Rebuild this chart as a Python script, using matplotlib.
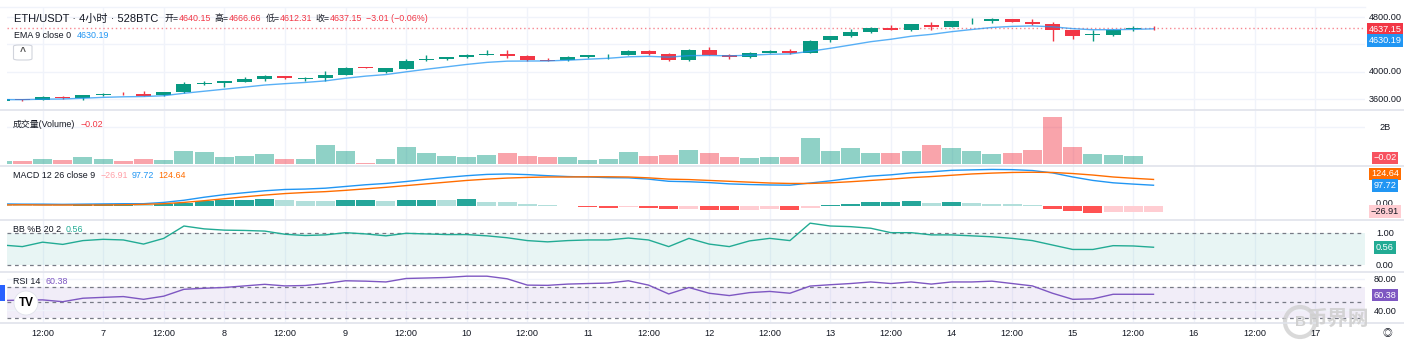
import matplotlib
matplotlib.use("Agg")
import matplotlib.pyplot as plt
from matplotlib.patches import Rectangle, FancyBboxPatch, Ellipse
from matplotlib.lines import Line2D
import numpy as np

plt.rcParams['font.family'] = ['Liberation Sans', 'Noto Sans CJK SC', 'DejaVu Sans']

W, H = 1404, 347

# ---- data: 4h candles, index k (k=0 -> day 6 00:00) ----
bar_idx = list(range(1, 59))
opens = [3575, 3600, 3585, 3630, 3612, 3655, 3678, 3675, 3652, 3695,
         3820, 3830, 3855, 3895, 3930, 3900, 3905, 3950, 4065, 3995,
         4045, 4165, 4190, 4210, 4248, 4255, 4237, 4170, 4165, 4215,
         4245, 4248, 4300, 4265, 4165, 4325, 4250, 4210, 4280, 4310,
         4280, 4460, 4518, 4580, 4637, 4615, 4690, 4660, 4740, 4750,
         4768, 4735, 4705, 4610, 4545, 4540, 4625, 4640.15]
highs = [3605, 3606, 3650, 3638, 3662, 3690, 3695, 3718, 3700, 3845,
         3870, 3870, 3920, 3950, 3935, 3925, 4015, 4068, 4068, 4060,
         4193, 4240, 4218, 4262, 4326, 4326, 4240, 4200, 4225, 4252,
         4258, 4325, 4326, 4272, 4330, 4370, 4258, 4295, 4318, 4330,
         4462, 4525, 4630, 4650, 4680, 4705, 4730, 4752, 4785, 4785,
         4775, 4770, 4730, 4615, 4607, 4630, 4665, 4666.66]
lows = [3570, 3575, 3580, 3605, 3580, 3648, 3660, 3645, 3648, 3690,
        3800, 3780, 3850, 3860, 3898, 3870, 3870, 3945, 4054, 3988,
        4040, 4150, 4175, 4195, 4240, 4198, 4160, 4160, 4150, 4208,
        4185, 4240, 4248, 4160, 4155, 4240, 4185, 4205, 4272, 4260,
        4270, 4430, 4510, 4570, 4615, 4605, 4610, 4652, 4700, 4720,
        4725, 4690, 4449, 4484, 4449, 4530, 4600, 4612.31]
closes = [3598, 3585, 3625, 3612, 3655, 3675, 3665, 3650, 3695, 3825,
          3835, 3865, 3895, 3930, 3905, 3912, 3955, 4060, 4058, 4050,
          4160, 4190, 4210, 4250, 4255, 4228, 4165, 4163, 4215, 4245,
          4250, 4305, 4255, 4165, 4325, 4250, 4210, 4280, 4310, 4280,
          4458, 4518, 4582, 4636, 4620, 4695, 4660, 4745, 4750, 4768,
          4732, 4700, 4610, 4525, 4555, 4620, 4640, 4637.15]
ema9 = [3590, 3589, 3596, 3599, 3610, 3623, 3631, 3635, 3647, 3683,
        3713, 3743, 3773, 3804, 3824, 3842, 3865, 3904, 3935, 3958,
        3998, 4036, 4071, 4107, 4137, 4155, 4157, 4158, 4169, 4184,
        4197, 4219, 4226, 4214, 4236, 4239, 4233, 4242, 4256, 4261,
        4300, 4344, 4392, 4441, 4477, 4521, 4549, 4588, 4620, 4650,
        4666, 4673, 4660, 4633, 4617, 4618, 4622, 4630.19]
volume_b = [0.18, 0.18, 0.29, 0.22, 0.40, 0.27, 0.18, 0.27, 0.22, 0.73,
            0.64, 0.40, 0.44, 0.55, 0.29, 0.27, 1.04, 0.71, 0.05, 0.27,
            0.93, 0.60, 0.44, 0.38, 0.51, 0.60, 0.44, 0.40, 0.38, 0.24,
            0.29, 0.64, 0.44, 0.51, 0.76, 0.60, 0.36, 0.33, 0.36, 0.36,
            1.42, 0.73, 0.87, 0.60, 0.60, 0.69, 1.05, 0.87, 0.69, 0.55,
            0.62, 0.76, 2.56, 0.95, 0.55, 0.49, 0.44, 0.03]
macd_line = [11, 10, 10, 9, 10, 11, 12, 12, 18, 28,
             42, 54, 63, 72, 78, 80, 84, 92, 100, 106,
             115, 125, 134, 142, 148, 150, 147, 142, 138, 136,
             133, 132, 126, 116, 114, 110, 104, 101, 99, 98,
             108, 118, 130, 140, 146, 155, 160, 167, 169, 171,
             170, 166, 155, 136, 120, 109, 103, 97.72]
signal_line = [6, 7, 6, 6, 6, 6, 7, 9, 12, 18,
               26, 35, 44, 52, 59, 64, 68, 74, 81, 88,
               96, 104, 112, 120, 126, 131, 134, 136, 136, 137,
               137, 136, 132, 126, 124, 120, 116, 112, 108, 106,
               106, 109, 114, 120, 126, 133, 138, 144, 150, 154,
               157, 158, 157, 152, 145, 136, 130, 124.64]
macd_hist = [9, 9, 9, 8, 9, 9.5, 9.8, 6, 11, 17,
             26, 31, 31.5, 32, 31, 26, 25.5, 29, 29.5, 26,
             29, 31, 30.5, 33, 22, 19, 11, 5, 2, -3,
             -8, -5, -8, -14, -12, -15.6, -17, -15.5, -14.5, -15,
             -8.5, 4, 12.7, 19.8, 20, 22.7, 17, 21, 14, 12.7,
             9.9, 5.7, -11, -21.2, -29.7, -28.3, -28.2, -26.91]
bb_pctb = [0.63, 0.58, 0.72, 0.65, 0.77, 0.81, 0.79, 0.66, 0.84, 1.23,
           1.14, 1.10, 1.09, 1.07, 0.97, 0.93, 0.95, 1.02, 0.98, 0.92,
           1.00, 0.98, 0.96, 0.96, 0.92, 0.86, 0.77, 0.73, 0.77, 0.79,
           0.79, 0.85, 0.79, 0.58, 0.84, 0.66, 0.58, 0.76, 0.84, 0.77,
           1.32, 1.23, 1.21, 1.16, 1.02, 1.02, 0.95, 0.95, 0.92, 0.89,
           0.84, 0.77, 0.63, 0.49, 0.49, 0.61, 0.60, 0.56]
rsi14 = [52.5, 53, 53.3, 51, 55.4, 56.5, 57.5, 54, 58, 66.7,
         68, 69, 71, 73, 71, 71.5, 74, 77.5, 77, 76,
         80.4, 81, 81.7, 83.3, 83.3, 80, 72, 71.7, 73.3, 74,
         74.6, 77.5, 72, 60.8, 69, 61.7, 58.75, 62.5, 64, 61.7,
         70.8, 72.5, 74, 76, 74, 76, 73.3, 76, 76, 77,
         74, 71, 61.7, 54, 54.6, 60.4, 60.4, 60.38]

day_labels = ['7', '8', '9', '10', '11', '12', '13', '14', '15', '16', '17']
price_ticks = ['4800.00', '4000.00', '3600.00']

# ---- style ----
UP, DOWN = '#089981', '#F23645'
GRID = '#f0f3fa'
SEP = '#e0e3eb'
TXT = '#131722'
XMIN, XMAX = 1.24, 68.47
LEFT_PX, RIGHT_PX = 7, 1365
LEG = 6.4     # legend font size
AXF = 6.6     # scale / time label font size

fig = plt.figure(figsize=(W / 100, H / 100), dpi=100)
fig.patch.set_facecolor('white')


def pane(top, bottom, ylim):
    ax = fig.add_axes([LEFT_PX / W, (H - bottom) / H,
                       (RIGHT_PX - LEFT_PX) / W, (bottom - top) / H])
    ax.set_xlim(XMIN, XMAX)
    ax.set_ylim(*ylim)
    ax.axis('off')
    for k in range(3, 69, 3):
        ax.axvline(k, color=GRID, lw=1, zorder=0)
    return ax


def fy(y):
    return 1 - y / H


x = np.array(bar_idx)
up = np.array(closes) >= np.array(opens)

# main price pane
ax = pane(7, 110, (3437, 4951))
for p in [3600, 4000, 4400, 4800]:
    ax.axhline(p, color=GRID, lw=1, zorder=0)
for i in range(len(x)):
    c = UP if up[i] else DOWN
    ax.vlines(x[i], lows[i], highs[i], color=c, lw=1, zorder=2)
    lo, hi = min(opens[i], closes[i]), max(opens[i], closes[i])
    ax.add_patch(Rectangle((x[i] - 0.37, lo), 0.74, max(hi - lo, 4),
                           fc=c, ec='none', zorder=3))
ax.plot(x, ema9, color='#2196F3', lw=1, alpha=0.75, zorder=4)
ax.axhline(closes[-1], color=DOWN, lw=1, ls=(0, (1, 2)), alpha=0.6, zorder=1)

# volume pane
axv = pane(111, 165, (-0.05, 2.89))
axv.axhline(2, color=GRID, lw=1, zorder=0)
axv.bar(x, volume_b, width=0.94,
        color=[UP if u else DOWN for u in up], alpha=0.45, zorder=2)

# MACD pane
axm = pane(166, 219, (-59, 187))
hist_cols = []
for i, hv in enumerate(macd_hist):
    prev = macd_hist[i - 1] if i > 0 else hv
    if hv >= 0:
        hist_cols.append('#26A69A' if hv > prev else '#B2DFDB')
    else:
        hist_cols.append('#FF5252' if hv < prev else '#FFCDD2')
axm.bar(x, macd_hist, width=0.94, color=hist_cols, zorder=2)
axm.plot(x, macd_line, color='#2196F3', lw=1, zorder=3)
axm.plot(x, signal_line, color='#FF6D00', lw=1, zorder=3)

# BB %B pane
axb = pane(220, 271, (-0.19, 1.42))
axb.axhspan(0, 1, color='#26A69A', alpha=0.1, lw=0, zorder=0)
for lv in (0, 1):
    axb.axhline(lv, color='#787B86', lw=0.9, ls=(0, (3, 3)), zorder=1)
axb.plot(x, bb_pctb, color='#22AB94', lw=1, zorder=3)

# RSI pane
axr = pane(272, 322, (25.3, 88.6))
axr.axhspan(30, 70, color='#7E57C2', alpha=0.1, lw=0, zorder=0)
for lv in (40, 80):
    axr.axhline(lv, color=GRID, lw=1, zorder=0)
for lv in (30, 50, 70):
    axr.axhline(lv, color='#787B86', lw=0.9, ls=(0, (3, 3)), zorder=1)
axr.plot(x, rsi14, color='#7E57C2', lw=1, zorder=3)

# pane separators
for yy in (110.5, 165.5, 219.5, 271.5, 322.5):
    fig.add_artist(Line2D([0, 1], [fy(yy), fy(yy)], color=SEP, lw=1.2))
fig.add_artist(Line2D([0, RIGHT_PX / W], [fy(7), fy(7)], color=GRID, lw=1))


# time axis labels
def kx(k):
    return (LEFT_PX + (k - XMIN) / (XMAX - XMIN) * (RIGHT_PX - LEFT_PX)) / W


for j in range(11):
    fig.text(kx(3 + 6 * j), fy(333), '12:00', fontsize=AXF, color=TXT,
             ha='center', va='center')
for j, lab in enumerate(day_labels):
    fig.text(kx(6 + 6 * j), fy(333), lab, fontsize=AXF, color=TXT,
             ha='center', va='center')


# right scale labels
def scale_label(y, txt, fc=None, tc=TXT):
    kw = {}
    if fc:
        kw['bbox'] = dict(boxstyle='square,pad=0.2', fc=fc, ec='none')
    fig.text(1385 / W, fy(y), txt, fontsize=AXF, color=tc, ha='center',
             va='center', **kw)


scale_label(17.3, price_ticks[0])
scale_label(71.7, price_ticks[1])
scale_label(99, price_ticks[2])
scale_label(29, '4637.15', DOWN, 'white')
scale_label(40.5, '4630.19', '#2196F3', 'white')
scale_label(127.3, '2B')
scale_label(158, '\u22120.02', '#F7525F', 'white')
scale_label(204, '0.00')
scale_label(174, '124.64', '#FF6D00', 'white')
scale_label(185.5, '97.72', '#2196F3', 'white')
scale_label(211.5, '\u221226.91', '#FFCDD2', TXT)
scale_label(233.3, '1.00')
scale_label(265, '0.00')
scale_label(247.5, '0.56', '#22AB94', 'white')
scale_label(279.5, '80.00')
scale_label(311, '40.00')
scale_label(295, '60.38', '#7E57C2', 'white')

# legends
renderer = fig.canvas.get_renderer()


def legend_row(x0, y, parts):
    xp = x0
    for txt, col, size, gap in parts:
        t = fig.text(xp / W, fy(y), txt, fontsize=size, color=col,
                     ha='left', va='center')
        bb = t.get_window_extent(renderer)
        xp = bb.x1 + gap


legend_row(14, 18.5, [('ETH/USDT · 4小时 · 528BTC', TXT, 8, 6),
                      ('开=', TXT, LEG, 0), ('4640.15', DOWN, LEG, 4),
                      ('高=', TXT, LEG, 0), ('4666.66', DOWN, LEG, 4),
                      ('低=', TXT, LEG, 0), ('4612.31', DOWN, LEG, 4),
                      ('收=', TXT, LEG, 0), ('4637.15', DOWN, LEG, 4),
                      ('\u22123.01 (\u22120.06%)', DOWN, LEG, 0)])
legend_row(14, 35.5, [('EMA 9 close 0', TXT, LEG, 6), ('4630.19', '#2196F3', LEG, 0)])
legend_row(13, 124, [('成交量(Volume)', TXT, LEG, 5), ('\u22120.02', DOWN, LEG, 0)])
legend_row(13, 176, [('MACD 12 26 close 9', TXT, LEG, 5),
                     ('\u221226.91', '#FFA0A8', LEG, 4),
                     ('97.72', '#2196F3', LEG, 4), ('124.64', '#FF6D00', LEG, 0)])
legend_row(13, 229, [('BB %B 20 2', TXT, LEG, 5), ('0.56', '#22AB94', LEG, 0)])
legend_row(13, 281.5, [('RSI 14', TXT, LEG, 5), ('60.38', '#7E57C2', LEG, 0)])

# collapse button
fig.add_artist(FancyBboxPatch((13.5 / W, fy(60)), 18.5 / W, 15 / H,
                              boxstyle='round,pad=0,rounding_size=0.004',
                              fc='white', ec='#d1d4dc', lw=0.8,
                              transform=fig.transFigure))
fig.text(22.5 / W, fy(52.5), '^', fontsize=7.5, color='#555555', ha='center',
         va='center', fontweight='bold')

# TradingView badge and side tab
fig.add_artist(Rectangle((0, fy(301)), 5 / W, 16 / H, fc='#2962FF',
                         ec='none', transform=fig.transFigure))
fig.add_artist(Ellipse((26 / W, fy(303)), 24 / W, 24 / H, fc='white',
                       ec='#e0e3eb', lw=0.6, transform=fig.transFigure))
fig.text(26 / W, fy(303), 'TV', fontsize=8.5, fontweight='bold',
         color='black', ha='center', va='center')

# watermark
fig.add_artist(Ellipse((1300 / W, fy(322)), 30 / W, 30 / H, fc='none',
                       ec='#d0d0d0', lw=3, alpha=0.8,
                       transform=fig.transFigure))
fig.text(1300 / W, fy(322), 'B', fontsize=11, color='#d0d0d0',
         fontweight='bold', ha='center', va='center')
fig.text(1338 / W, fy(319), '币界网', fontsize=15, color='#d0d0d0',
         ha='center', va='center', fontweight='bold', alpha=0.9)
fig.text(1387 / W, fy(333), '\u25ce', fontsize=7, color=TXT, ha='center',
         va='center')

fig.savefig('out.png', dpi=100, facecolor='white')
